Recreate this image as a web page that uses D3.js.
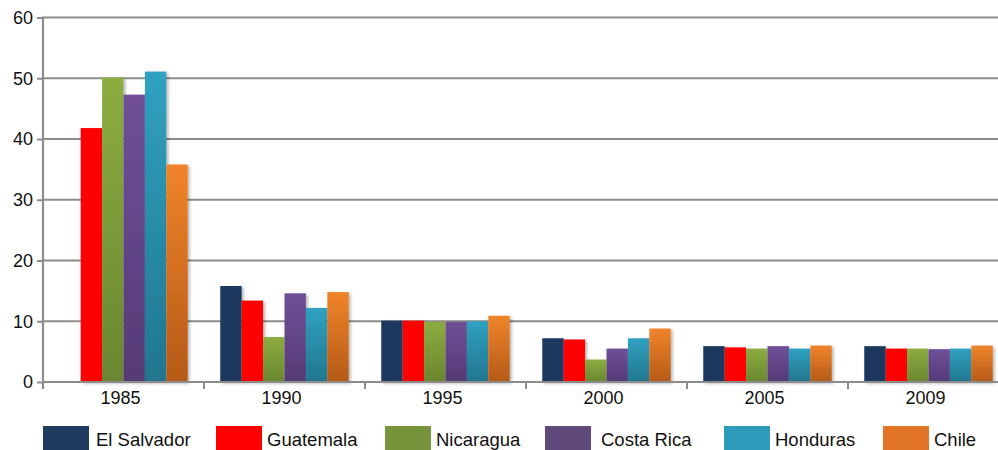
<!DOCTYPE html>
<html>
<head>
<meta charset="utf-8">
<script src="https://cdn.jsdelivr.net/npm/d3@7"></script>
<style>
  html, body { margin: 0; padding: 0; background: #fff; }
  svg { display: block; font-family: "Liberation Sans", Arial, sans-serif; }
</style>
</head>
<body>
<svg id="chart" width="998" height="450"></svg>
<script>
// Years on the category axis
const years = ["1985", "1990", "1995", "2000", "2005", "2009"];
// Countries (one bar per country within each year)
const countries = ["El Salvador", "Guatemala", "Nicaragua", "Costa Rica", "Honduras", "Chile"];
// Values per country, in year order (null = no data)
const elSalvador = [null, 15.8, 10.1, 7.2, 5.9, 5.9];
const guatemala  = [41.8, 13.4, 10.1, 7.0, 5.7, 5.5];
const nicaragua  = [50.1, 7.4, 9.9, 3.7, 5.5, 5.5];
const costaRica  = [47.3, 14.6, 9.9, 5.5, 5.9, 5.4];
const honduras   = [51.1, 12.2, 10.0, 7.2, 5.5, 5.5];
const chile      = [35.8, 14.8, 10.9, 8.8, 6.0, 6.0];
const yTicks = [0, 10, 20, 30, 40, 50, 60];

const seriesValues = [elSalvador, guatemala, nicaragua, costaRica, honduras, chile];

// Bar fills: top and bottom of a vertical gradient, plus legend swatch colour
const barTop    = ["#1a375e", "#ff0000", "#8cad40", "#6f5098", "#30a1c1", "#f0842a"];
const barBottom = ["#1a375e", "#ff0000", "#6a8630", "#553a76", "#21768e", "#b45a18"];
const swatch    = ["#1f3b60", "#ff0000", "#77933c", "#604a7c", "#2f9bba", "#e07325"];

const svg = d3.select("#chart");
const defs = svg.append("defs");

countries.forEach((c, i) => {
  const g = defs.append("linearGradient")
    .attr("id", "grad" + i)
    .attr("x1", 0).attr("y1", 0).attr("x2", 0).attr("y2", 1);
  g.append("stop").attr("offset", "0%").attr("stop-color", barTop[i]);
  g.append("stop").attr("offset", "100%").attr("stop-color", barBottom[i]);
});

const shadow = defs.append("filter").attr("id", "shadow")
  .attr("x", "-20%").attr("y", "-5%").attr("width", "150%").attr("height", "120%");
shadow.append("feDropShadow")
  .attr("dx", 2).attr("dy", 1.5).attr("stdDeviation", 1.5)
  .attr("flood-color", "#000").attr("flood-opacity", 0.28);

const left = 43, zeroY = 382, topY = 17.5, bandW = 161;

const x0 = d3.scaleBand().domain(years)
  .range([left, left + bandW * years.length]).paddingInner(0).paddingOuter(0);
const x1 = d3.scaleBand().domain(countries)
  .range([0, x0.bandwidth()]).paddingInner(0).paddingOuter(0.76);
const y = d3.scaleLinear().domain([0, 60]).range([zeroY, topY]);

const gridColor = "#8c8c8c";

// Horizontal gridlines
svg.append("g").selectAll("line")
  .data(yTicks.filter(t => t > 0))
  .join("line")
  .attr("x1", left).attr("x2", 998)
  .attr("y1", d => y(d)).attr("y2", d => y(d))
  .attr("stroke", gridColor).attr("stroke-width", 2);

// Bars
const groups = svg.append("g").selectAll("g")
  .data(years)
  .join("g")
  .attr("transform", d => `translate(${x0(d)},0)`);

groups.selectAll("rect")
  .data((yr, yi) => countries.map((c, ci) => ({ c, ci, v: seriesValues[ci][yi] }))
    .filter(d => d.v != null))
  .join("rect")
  .attr("x", d => x1(d.c))
  .attr("width", x1.bandwidth())
  .attr("y", d => y(d.v))
  .attr("height", d => zeroY - y(d.v))
  .attr("fill", d => `url(#grad${d.ci})`)
  .attr("filter", "url(#shadow)");

// Y axis
const yAxis = svg.append("g")
  .attr("transform", `translate(${left},0)`)
  .call(d3.axisLeft(y).tickValues(yTicks).tickSize(6).tickPadding(4).tickFormat(d3.format("d")));
yAxis.select(".domain").remove();
yAxis.selectAll(".tick line").attr("stroke", gridColor).attr("stroke-width", 2);
yAxis.selectAll(".tick text")
  .attr("fill", "#111").style("font-size", "18px")
  .style("font-family", "'Liberation Sans', Arial, sans-serif");
yAxis.append("line")
  .attr("x1", 0).attr("x2", 0).attr("y1", topY - 1).attr("y2", zeroY + 7)
  .attr("stroke", gridColor).attr("stroke-width", 2.2);

// X axis
const xAxis = svg.append("g").attr("transform", `translate(0,${zeroY})`);
xAxis.append("line")
  .attr("x1", left).attr("x2", 998).attr("y1", 0).attr("y2", 0)
  .attr("stroke", gridColor).attr("stroke-width", 2.2);
xAxis.selectAll("line.tk")
  .data(years.slice(1))
  .join("line").attr("class", "tk")
  .attr("x1", d => x0(d)).attr("x2", d => x0(d))
  .attr("y1", 0).attr("y2", 7)
  .attr("stroke", gridColor).attr("stroke-width", 2);
xAxis.selectAll("text")
  .data(years)
  .join("text")
  .attr("x", d => x0(d) + x0.bandwidth() / 2 - 3)
  .attr("y", 22)
  .attr("text-anchor", "middle")
  .attr("fill", "#111")
  .style("font-size", "18px")
  .text(d => d);

// Legend
const legendX = [43, 216, 385, 545, 724, 883];
const legend = svg.append("g").selectAll("g")
  .data(countries)
  .join("g")
  .attr("transform", (d, i) => `translate(${legendX[i]},426)`);
legend.append("rect")
  .attr("width", 46).attr("height", 24)
  .attr("fill", (d, i) => swatch[i]);
legend.append("text")
  .attr("x", (d, i) => (i === 3 ? 56 : i === 0 ? 53 : 51))
  .attr("y", 20)
  .attr("fill", "#111")
  .style("font-size", "18.5px")
  .text(d => d);
</script>
</body>
</html>
